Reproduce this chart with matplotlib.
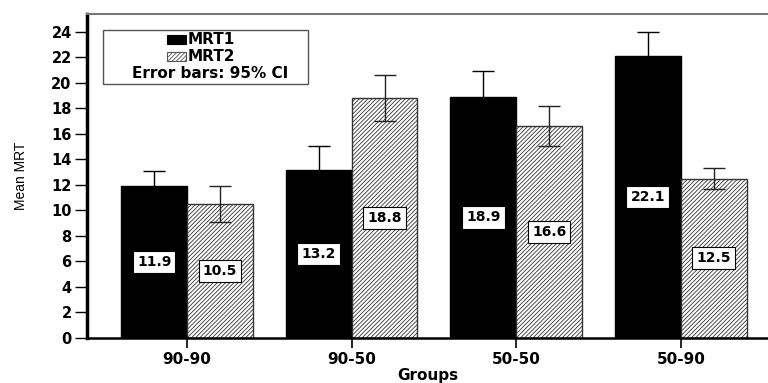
import matplotlib
matplotlib.use("Agg")
import matplotlib.pyplot as plt
import numpy as np
from matplotlib.patches import Rectangle

plt.rcParams['font.family'] = ['DejaVu Sans']
plt.rcParams['hatch.linewidth'] = 0.6

groups = ["90-90", "90-50", "50-50", "50-90"]
mrt1 = [11.9, 13.2, 18.9, 22.1]
mrt2 = [10.5, 18.8, 16.6, 12.5]
mrt1_ci = [1.2, 1.85, 2.0, 1.9]
mrt2_ci = [1.4, 1.8, 1.55, 0.8]
yticks = list(range(0, 25, 2))

fig = plt.figure(figsize=(7.68, 3.83), dpi=100)
ax = fig.add_axes([87/768, 1-338/383, 681/768, 324/383])

x = np.arange(len(groups))
w = 0.4
ax.bar(x - w/2, mrt1, w, color='black', edgecolor='black', linewidth=1, zorder=2)
ax.bar(x + w/2, mrt2, w, color='white', edgecolor='#333333', hatch='////////', linewidth=1, zorder=2)
ax.errorbar(x - w/2, mrt1, yerr=mrt1_ci, fmt='none', ecolor='black', elinewidth=1, capsize=8, capthick=1, zorder=3)
ax.errorbar(x + w/2, mrt2, yerr=mrt2_ci, fmt='none', ecolor='#222222', elinewidth=1, capsize=8, capthick=1, zorder=3)

bbox = dict(boxstyle='square,pad=0.3', facecolor='white', edgecolor='black', linewidth=0.8)
for xi, v in zip(x - w/2, mrt1):
    ax.text(xi, v/2, f"{v:.1f}", ha='center', va='center', fontsize=10, fontweight='bold', bbox=bbox, zorder=4)
for xi, v in zip(x + w/2, mrt2):
    ax.text(xi, v/2, f"{v:.1f}", ha='center', va='center', fontsize=10, fontweight='bold', bbox=bbox, zorder=4)

ax.set_xlim(-0.608, 3.53)
ax.set_ylim(0, 25.4)
ax.set_xticks(x)
ax.set_xticklabels(groups, fontsize=11, fontweight='bold')
ax.set_yticks(yticks)
ax.set_yticklabels([str(t) for t in yticks], fontsize=10.5, fontweight='bold')
ax.tick_params(axis='y', length=9, width=1, pad=2)
ax.tick_params(axis='x', length=7, width=1.2, pad=3)

ax.spines['left'].set_linewidth(2.5)
ax.spines['bottom'].set_linewidth(1.8)
ax.spines['top'].set_linewidth(1.5)
ax.spines['top'].set_color('#777777')
ax.spines['right'].set_visible(False)

ax.set_xlabel("Groups", fontsize=11, fontweight='bold', labelpad=1)
ax.set_ylabel("Mean MRT", family='Liberation Sans', fontsize=10, labelpad=17)

# legend box
T = ax.transAxes
ax.add_patch(Rectangle((0.0235, 0.784), 0.301, 0.1667, transform=T, facecolor='white',
                       edgecolor='#555555', linewidth=1, zorder=5))
ax.add_patch(Rectangle((0.1175, 0.9074), 0.028, 0.029, transform=T, facecolor='black',
                       edgecolor='black', linewidth=0.8, zorder=6))
ax.add_patch(Rectangle((0.1175, 0.855), 0.028, 0.029, transform=T, facecolor='white',
                       edgecolor='#555555', hatch='////////', linewidth=0.8, zorder=6))
ax.text(0.148, 0.921, "MRT1", transform=T, fontsize=11, fontweight='bold', va='center', ha='left', zorder=7)
ax.text(0.148, 0.868, "MRT2", transform=T, fontsize=11, fontweight='bold', va='center', ha='left', zorder=7)
ax.text(0.181, 0.815, "Error bars: 95% CI", transform=T, fontsize=11, fontweight='bold', va='center', ha='center', zorder=7)

fig.savefig("out.png", dpi=100, facecolor='white')
